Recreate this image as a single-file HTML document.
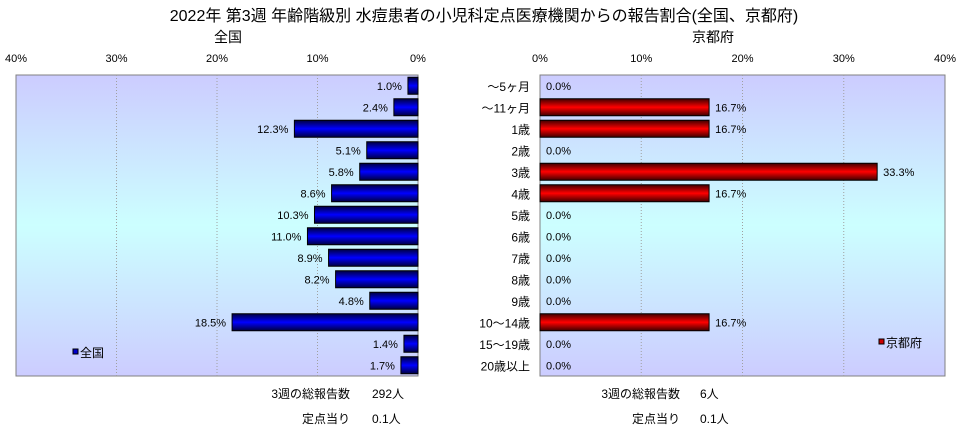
<!DOCTYPE html>
<html><head><meta charset="utf-8">
<style>
body{margin:0;background:#fff;width:968px;height:432px;overflow:hidden;font-family:"Liberation Sans","Noto Sans CJK JP",sans-serif;}
svg text{font-family:"Liberation Sans","Noto Sans CJK JP",sans-serif;}
</style></head><body>
<svg id="c" width="968" height="432">
<defs>
<linearGradient id="bg" x1="0" y1="0" x2="0" y2="1">
<stop offset="0" stop-color="#ccccff"/><stop offset="0.5" stop-color="#ccffff"/><stop offset="1" stop-color="#ccccff"/>
</linearGradient>
<linearGradient id="gb" x1="0" y1="0" x2="0" y2="1">
<stop offset="0" stop-color="#000040"/><stop offset="0.5" stop-color="#0000ff"/><stop offset="1" stop-color="#000040"/>
</linearGradient>
<linearGradient id="gr" x1="0" y1="0" x2="0" y2="1">
<stop offset="0" stop-color="#400000"/><stop offset="0.5" stop-color="#ff0000"/><stop offset="1" stop-color="#400000"/>
</linearGradient>
</defs>
<text x="484" y="21" text-anchor="middle" font-size="16">2022年 第3週 年齢階級別 水痘患者の小児科定点医療機関からの報告割合(全国、京都府)</text>
<text x="228" y="42" text-anchor="middle" font-size="14">全国</text>
<text x="713" y="42" text-anchor="middle" font-size="14">京都府</text>
<g id="g"></g>
<text x="350" y="398" text-anchor="end" font-size="12">3週の総報告数</text>
<text x="372" y="398" font-size="12">292人</text>
<text x="350" y="423" text-anchor="end" font-size="12">定点当り</text>
<text x="372" y="423" font-size="12">0.1人</text>
<text x="680" y="398" text-anchor="end" font-size="12">3週の総報告数</text>
<text x="700" y="398" font-size="12">6人</text>
<text x="680" y="423" text-anchor="end" font-size="12">定点当り</text>
<text x="700" y="423" font-size="12">0.1人</text>
</svg>
<script>
const categories=["～5ヶ月","～11ヶ月","1歳","2歳","3歳","4歳","5歳","6歳","7歳","8歳","9歳","10～14歳","15～19歳","20歳以上"];
const nationalValues=[1.0,2.4,12.3,5.1,5.8,8.6,10.3,11.0,8.9,8.2,4.8,18.5,1.4,1.7];
const kyotoValues=[0,16.7,16.7,0,33.3,16.7,0,0,0,0,0,16.7,0,0];
const tickValues=[0,10,20,30,40];
const tickLabels=["0%","10%","20%","30%","40%"];
const NS="http://www.w3.org/2000/svg";
const g=document.getElementById('g');
const top0=75,bot0=376,rowH=(bot0-top0)/categories.length,barH=17;
const L={x0:418,x1:16,dir:-1},R={x0:540,x1:945,dir:1};
function sx(p,v){return p.x0+p.dir*v*Math.abs(p.x1-p.x0)/40;}
function yc(i){return top0+rowH*(i+0.5);}
function mk(tag,at,txt){const e=document.createElementNS(NS,tag);for(const k in at)e.setAttribute(k,at[k]);if(txt!==undefined)e.textContent=txt;g.appendChild(e);return e;}
function panel(p,vals,fill,name,legendX,legendY){
  const xl=Math.min(p.x0,p.x1),xr=Math.max(p.x0,p.x1);
  let e=mk('rect',{x:xl,y:top0,width:xr-xl,height:bot0-top0,fill:'url(#bg)',stroke:'#808080'});
  
  
  tickValues.forEach((t,k)=>{
    const x=sx(p,t);
    if(t>0&&t<40){e=mk('line',{x1:x,x2:x,y1:top0,y2:bot0,stroke:'#a0a0a0','stroke-dasharray':'1,2'});
    
    }
    e=mk('text',{x:x,y:62,'text-anchor':'middle','font-size':11},tickLabels[k]);
    
    
  });
  vals.forEach((v,i)=>{
    const y=yc(i),xa=p.x0,xb=sx(p,v);
    if(v>0){e=mk('rect',{x:Math.min(xa,xb),y:y-barH/2,width:Math.abs(xb-xa),height:barH,fill:fill,stroke:'#000'});
    
    }
    const lx=p.dir<0?xb-6:(v>0?xb+6:p.x0+6);
    e=mk('text',{x:lx,y:y+4,'text-anchor':p.dir<0?'end':'start','font-size':11},v.toFixed(1)+'%');
    
    
  });
}
panel(L,nationalValues,'url(#gb)','national');
panel(R,kyotoValues,'url(#gr)','kyoto');
categories.forEach((c,i)=>{
  const e=mk('text',{x:530,y:yc(i)+5,'text-anchor':'end','font-size':12},c);
  
  
});
let e=mk('rect',{x:73,y:349,width:5,height:5,fill:'#0000cc',stroke:'#000'});


e=mk('text',{x:80,y:357,'font-size':12},'全国');


e=mk('rect',{x:879,y:339,width:5,height:5,fill:'#cc0000',stroke:'#000'});


e=mk('text',{x:886,y:347,'font-size':12},'京都府');


</script>
</body></html>
